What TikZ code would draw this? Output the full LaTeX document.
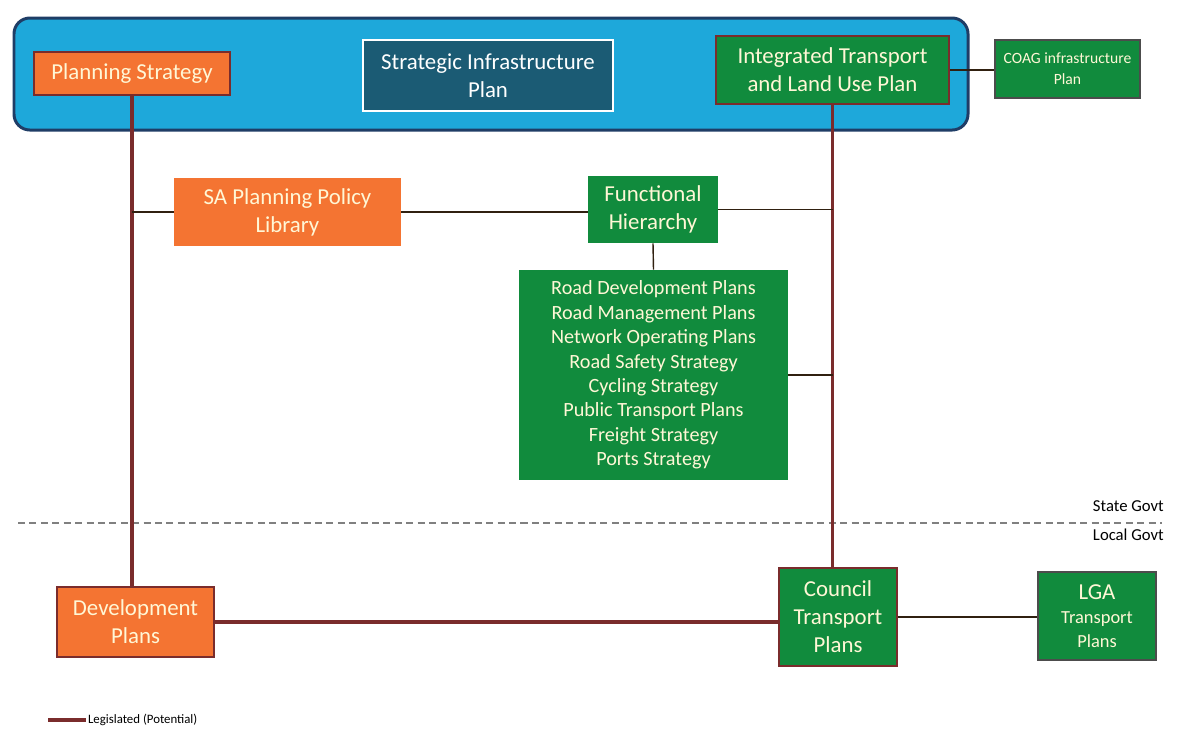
\documentclass[tikz,border=0pt]{standalone}
\usepackage{fontspec}
\setmainfont{Carlito}
\definecolor{bandblue}{HTML}{1EA8DA}
\definecolor{bandedge}{HTML}{1F3D66}
\definecolor{sipteal}{HTML}{1B5B74}
\definecolor{boxorange}{HTML}{F47432}
\definecolor{boxgreen}{HTML}{118B3D}
\definecolor{legred}{HTML}{7A2C2C}
\definecolor{txtcream}{HTML}{FFF7D6}
\tikzset{
  planbox/.style={rectangle,fill=boxorange,text=txtcream,align=center,inner sep=0pt,font=\fontsize{13}{16}\selectfont},
  greenbox/.style={rectangle,fill=boxgreen,text=txtcream,align=center,inner sep=0pt,font=\fontsize{13}{16}\selectfont},
  legline/.style={legred,line width=1.9pt},
  thinline/.style={black!75!brown,line width=0.8pt}
}
\begin{document}
\begin{tikzpicture}[x=0.02cm,y=-0.02cm]
        \useasboundingbox (0,0) rectangle (1197,735);
        \fill[white](0,0)rectangle(1197,735);
        \draw[bandedge,fill=bandblue,line width=1.7pt,rounded corners=9pt](14,18)rectangle(968,130);

        \node[planbox,draw=legred,line width=1.2pt,minimum width=3.92cm,minimum height=0.86cm](plan)at(132,73.5){Planning Strategy};
        \node[rectangle,fill=sipteal,draw=white,line width=1.5pt,text=white,align=center,inner sep=0pt,minimum width=5cm,minimum height=1.42cm,font=\fontsize{13}{16}\selectfont](sip)at(488,75.5){Strategic Infrastructure\\Plan};
        \node[greenbox,draw=legred,line width=1.6pt,minimum width=4.66cm,minimum height=1.36cm](itlup)at(832.5,70){Integrated Transport\\and Land Use Plan};
        \node[greenbox,draw=black!70,line width=0.7pt,minimum width=2.9cm,minimum height=1.16cm,font=\fontsize{8.9}{12}\selectfont](coag)at(1067.5,69){COAG infrastructure\\Plan};

        \node[planbox,minimum width=4.54cm,minimum height=1.36cm](sapp)at(287.5,212){SA Planning Policy\\Library};
        \node[greenbox,minimum width=2.6cm,minimum height=1.34cm](func)at(653,209.5){Functional\\Hierarchy};
        \node[greenbox,minimum width=5.38cm,minimum height=4.2cm,font=\fontsize{11.5}{13.9}\selectfont](list)at(653.5,375){Road Development Plans\\Road Management Plans\\Network Operating Plans\\Road Safety Strategy\\Cycling Strategy\\Public Transport Plans\\Freight Strategy\\Ports Strategy};

        \node[planbox,draw=legred,line width=1.4pt,minimum width=3.14cm,minimum height=1.4cm](dev)at(135.5,622){Development\\Plans};
        \node[greenbox,draw=legred,line width=1.6pt,minimum width=2.36cm,minimum height=1.96cm](council)at(838,617){Council\\Transport\\Plans};
        \node[greenbox,draw=black!70,line width=0.7pt,minimum width=2.36cm,minimum height=1.76cm,font=\fontsize{10.5}{13.5}\selectfont](lga)at(1097,616){{\fontsize{13}{16}\selectfont LGA}\\Transport\\Plans};

        % state / local divide
        \coordinate(dl)at(18,523);
        \coordinate(dr)at(1162,523);
        \draw[gray,dashed,line width=0.8pt,dash pattern=on 4pt off 2.5pt](dl)--(dr);
        \node[anchor=east,font=\fontsize{9.5}{11}\selectfont](state)at(1170,506){State Govt};
        \node[anchor=east,font=\fontsize{9.5}{11}\selectfont](local)at(1170,535){Local Govt};

        \draw[legline](plan.south)--(plan.south|-dev.north);
        \draw[legline](itlup.south)--(itlup.south|-council.north);
        \draw[legline](dev.east)--(dev.east-|council.west);

        \draw[thinline](sapp.west)--(sapp.west-|plan.south);
        \draw[thinline](sapp.east)--(sapp.east-|func.west);
        \draw[thinline](func.east)--(func.east-|itlup.south);
        \draw[thinline](func.south)--(list.north);
        \draw[thinline](list.east)--(list.east-|itlup.south);
        \draw[thinline](itlup.east)--(itlup.east-|coag.west);
        \draw[thinline](council.east)--(council.east-|lga.west);

        % legend
        \coordinate(la)at(48,720);
        \coordinate(lb)at(86,720);
        \draw[legline](la)--(lb);
        \node[anchor=west,inner sep=1pt,font=\fontsize{7.3}{9}\selectfont](leg)at(lb){Legislated (Potential)};
    \end{tikzpicture}
\end{document}
